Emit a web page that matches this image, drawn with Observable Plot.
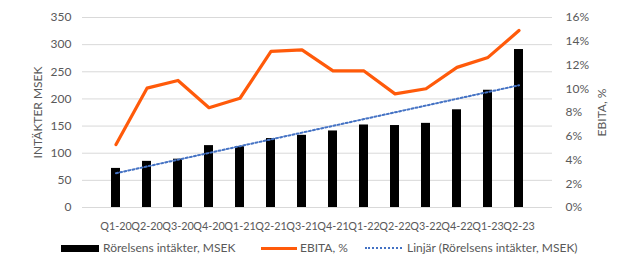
<!DOCTYPE html>
<html>
<head>
<meta charset="utf-8">
<script src="https://cdn.jsdelivr.net/npm/d3@7"></script>
<script src="https://cdn.jsdelivr.net/npm/@observablehq/plot@0.6"></script>
<style>
  body { margin: 0; background: #fff; font-family: Lato, "Open Sans", sans-serif; }
  #wrap { position: relative; width: 628px; height: 258px; }
  #legend { position: absolute; left: 0; top: 236px; width: 628px; height: 22px; font-size: 12px; color: #595959; }
  .li { position: absolute; top: 0; height: 22px; }
  .lt { position: absolute; top: 5px; line-height: 14px; white-space: nowrap; }
</style>
</head>
<body>
<div id="wrap">
  <div id="chart"></div>
  <div id="legend">
    <div class="li" style="left:61px;width:38px;"><div style="position:absolute;top:9px;width:38px;height:7px;background:#000"></div></div>
    <div class="lt" style="left:103px">Rörelsens intäkter, MSEK</div>
    <div class="li" style="left:261px;width:36px;"><div style="position:absolute;top:11px;width:36px;height:3px;background:#FF5A0A"></div></div>
    <div class="lt" style="left:300px">EBITA, %</div>
    <div class="li" style="left:365px;width:37px;"><div style="position:absolute;top:11px;width:37px;height:0;border-top:2px dotted #4472C4"></div></div>
    <div class="lt" style="left:407px">Linjär (Rörelsens intäkter, MSEK)</div>
  </div>
</div>
<script>
const quarters = ["Q1-20","Q2-20","Q3-20","Q4-20","Q1-21","Q2-21","Q3-21","Q4-21","Q1-22","Q2-22","Q3-22","Q4-22","Q1-23","Q2-23"];
const revenue = [72, 85, 89, 114, 112, 127, 133, 141, 152, 151, 155, 180, 216, 291];
const ebitaPct = [5.3, 10.05, 10.7, 8.4, 9.2, 13.15, 13.27, 11.5, 11.5, 9.57, 10.0, 11.8, 12.64, 14.9];
const leftTicks = [0, 50, 100, 150, 200, 250, 300, 350];
const rightTicks = [0, 2, 4, 6, 8, 10, 12, 14, 16];

const LMAX = 350, RMAX = 16;
const toLeft = p => p * LMAX / RMAX;

const data = quarters.map((q, i) => ({q, rev: revenue[i], pct: ebitaPct[i], i}));

// least squares trend of revenue (Excel "Linjär" trendline)
const mx = d3.mean(data, d => d.i), my = d3.mean(revenue);
const slope = d3.sum(data, d => (d.i - mx) * (d.rev - my)) / d3.sum(data, d => (d.i - mx) ** 2);
const intercept = my - slope * mx;
const trend = data.map(d => ({q: d.q, t: intercept + slope * d.i}));

const chart = Plot.plot({
  width: 628,
  height: 236,
  marginTop: 17,
  marginBottom: 29,
  marginLeft: 82,
  marginRight: 76,
  style: {fontFamily: "Lato, 'Open Sans', sans-serif", fontSize: "12px", color: "#595959", background: "#fff"},
  x: {domain: quarters, padding: 0.7, label: null},
  y: {domain: [0, LMAX], label: null},
  marks: [
    Plot.gridY(leftTicks, {stroke: "#d9d9d9", strokeOpacity: 1, strokeWidth: 1}),
    Plot.barY(data, {x: "q", y: "rev", fill: "#000"}),
    Plot.line(trend, {x: "q", y: "t", stroke: "#4472C4", strokeWidth: 2, strokeDasharray: "2,2.2"}),
    Plot.line(data, {x: "q", y: d => toLeft(d.pct), stroke: "#FF5A0A", strokeWidth: 3.2, strokeLinejoin: "round"}),
    Plot.axisY(leftTicks, {anchor: "left", tickSize: 0, tickPadding: 11, label: null, fill: "#595959"}),
    Plot.axisY(rightTicks.map(toLeft), {anchor: "right", tickSize: 0, tickPadding: 13, label: null, fill: "#595959", textAnchor: "start",
      tickFormat: d => Math.round(d * RMAX / LMAX) + "%"}),
    Plot.axisX({tickSize: 0, tickPadding: 15, label: null, fill: "#595959", fontSize: 10.8}),
    Plot.text(["INTÄKTER MSEK"], {frameAnchor: "left", dx: -44, rotate: -90, textAnchor: "middle", fill: "#595959", fontSize: 12}),
    Plot.text(["EBITA, %"], {frameAnchor: "right", dx: 50, rotate: -90, textAnchor: "middle", fill: "#595959", fontSize: 12})
  ]
});
document.getElementById("chart").appendChild(chart);
</script>
</body>
</html>
